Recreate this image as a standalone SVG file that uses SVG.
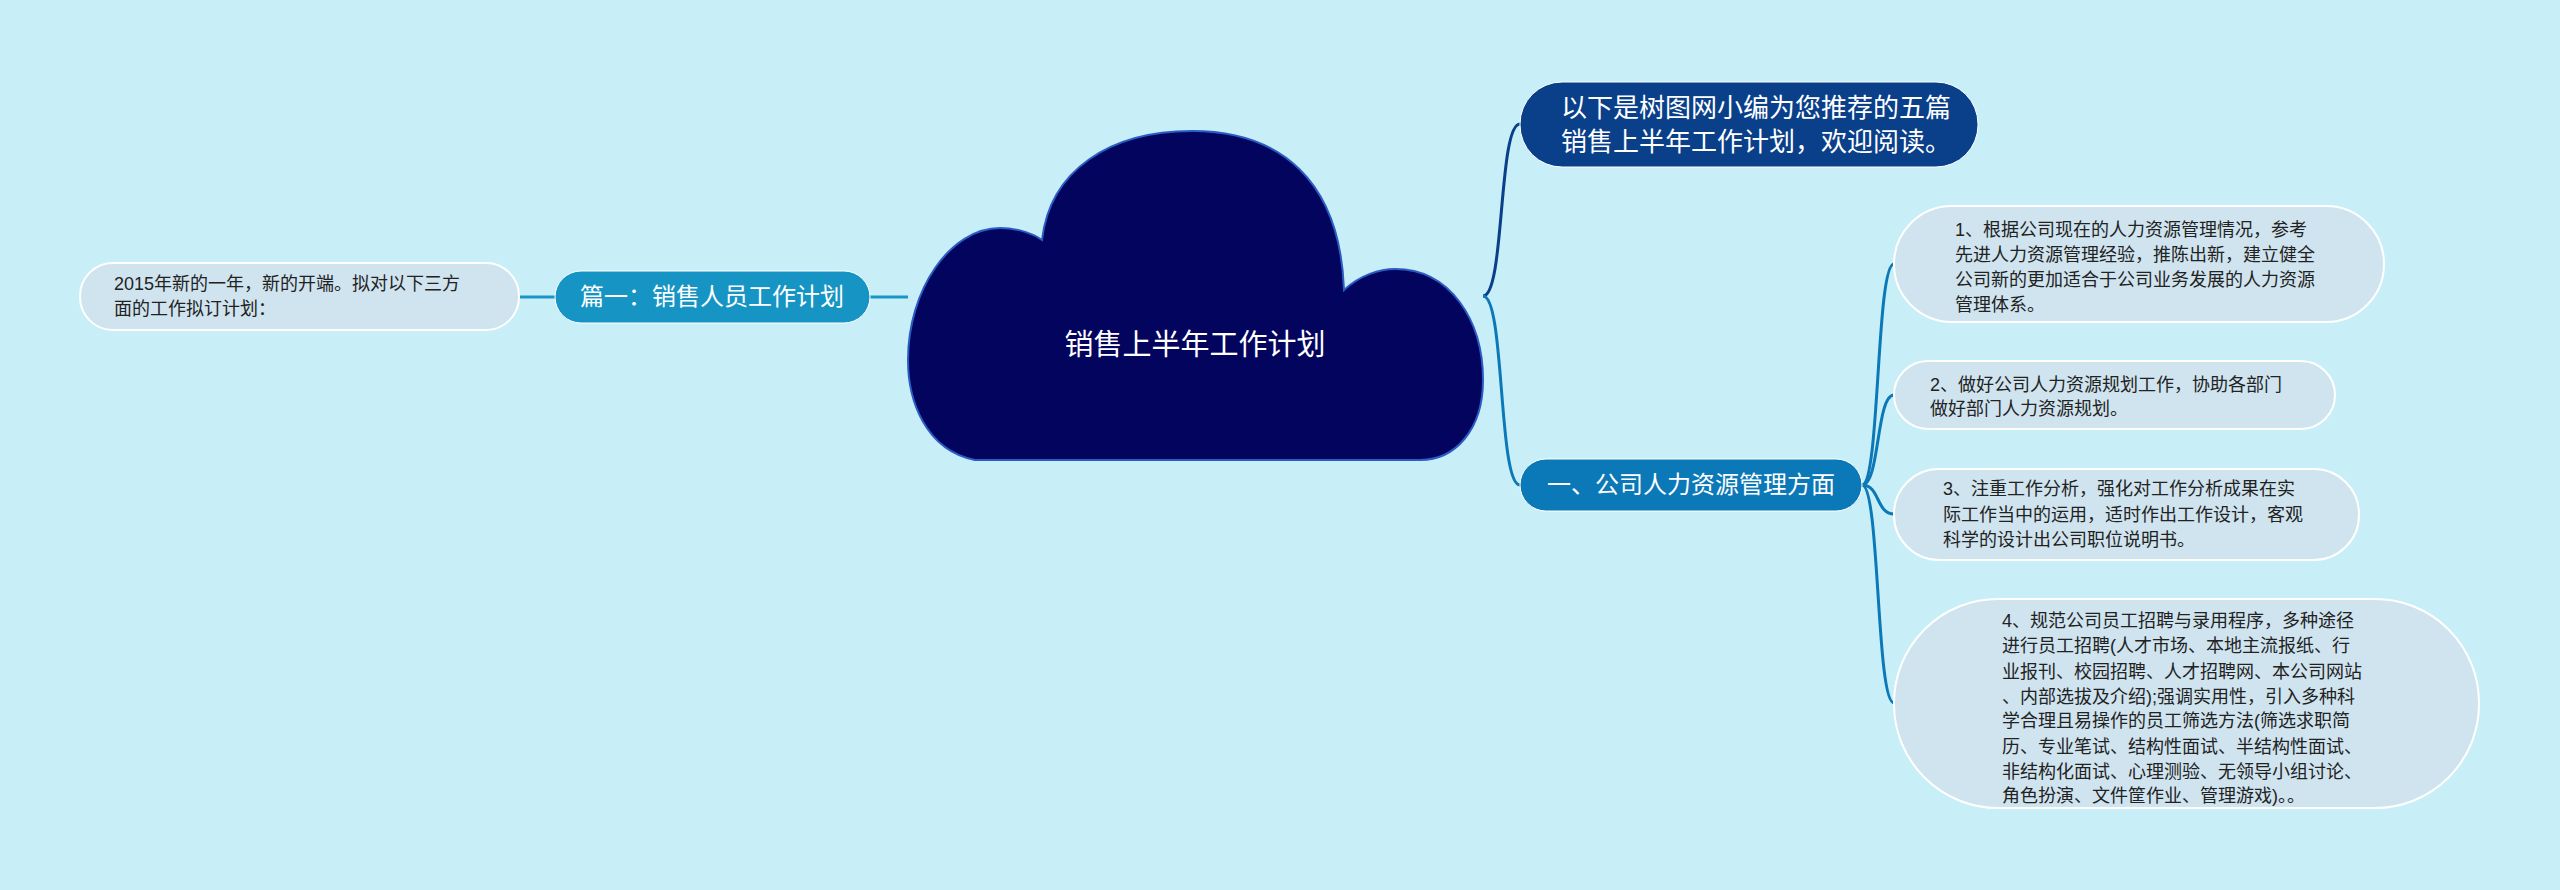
<svg xmlns="http://www.w3.org/2000/svg" width="2560" height="890" viewBox="0 0 2560 890">
<style>
.leaf{fill:#cfe4ef;stroke:#ffffff;stroke-width:2}
.lt{font-family:"Liberation Sans","Noto Sans CJK SC",sans-serif;font-size:18px;fill:#222222}
.wt{font-family:"Liberation Sans","Noto Sans CJK SC",sans-serif;fill:#ffffff}
.c{fill:none;stroke-width:3}
</style>
<rect width="2560" height="890" fill="#c8eff7"/>
<g id="connectors">
<path class="c" d="M870 297 H908" stroke="#1a95c5" stroke-width="5"/>
<path class="c" d="M519 297 H555" stroke="#1a95c5" stroke-width="4"/>
<path class="c" d="M1483 296 C1505 296 1498 124 1520 124" stroke="#0a3f8a"/>
<path class="c" d="M1483 296 C1505 296 1498 485 1520 485" stroke="#0b78b8"/>
<path class="c" d="M1862 485 C1880 485 1876 264 1894 264" stroke="#0b78b8"/>
<path class="c" d="M1862 485 C1880 485 1876 395 1894 395" stroke="#0b78b8"/>
<path class="c" d="M1862 485 C1880 485 1876 514 1894 514" stroke="#0b78b8"/>
<path class="c" d="M1862 485 C1880 485 1876 703 1894 703" stroke="#0b78b8"/>
</g>
<g id="root">
<path d="M975 460 C925 450 908 400 908 360 C908 290 950 228 1000 228 C1020 228 1035 235 1042 240 C1050 170 1110 131 1192 131 C1280 131 1340 180 1344 290 C1360 275 1380 269 1395 269 C1450 269 1483 320 1483 380 C1483 430 1455 460 1420 460 Z" fill="#03045e" stroke="#2a5cc4" stroke-width="2"/>
<text class="wt" x="1195" y="355" font-size="29" text-anchor="middle">销售上半年工作计划</text>
</g>
<g id="n-pian1">
<rect x="555" y="271" width="315" height="52" rx="26" fill="#1695c4" stroke="#ffffff" stroke-width="1"/>
<text class="wt" x="712" y="305" font-size="24" text-anchor="middle">篇一：销售人员工作计划</text>
</g>
<g id="n-2015">
<rect class="leaf" x="80" y="263" width="439" height="67" rx="33"/>
<text class="lt" x="114" y="290">2015年新的一年，新的开端。拟对以下三方</text>
<text class="lt" x="114" y="315">面的工作拟订计划：</text>
</g>
<g id="n-intro">
<rect x="1520" y="82" width="458" height="85" rx="42" fill="#0a3f8a" stroke="#ffffff" stroke-width="1"/>
<text class="wt" x="1561" y="117" font-size="26">以下是树图网小编为您推荐的五篇</text>
<text class="wt" x="1561" y="151" font-size="26">销售上半年工作计划，欢迎阅读。</text>
</g>
<g id="n-hr">
<rect x="1520" y="459" width="342" height="52" rx="26" fill="#0b78b8" stroke="#ffffff" stroke-width="1"/>
<text class="wt" x="1691" y="493" font-size="24" text-anchor="middle">一、公司人力资源管理方面</text>
</g>
<g id="n-1">
<rect class="leaf" x="1894" y="206" width="490" height="116" rx="58"/>
<text class="lt" x="1955" y="236">1、根据公司现在的人力资源管理情况，参考</text>
<text class="lt" x="1955" y="261">先进人力资源管理经验，推陈出新，建立健全</text>
<text class="lt" x="1955" y="286">公司新的更加适合于公司业务发展的人力资源</text>
<text class="lt" x="1955" y="311">管理体系。</text>
</g>
<g id="n-2">
<rect class="leaf" x="1894" y="361" width="441" height="68" rx="34"/>
<text class="lt" x="1930" y="391">2、做好公司人力资源规划工作，协助各部门</text>
<text class="lt" x="1930" y="415">做好部门人力资源规划。</text>
</g>
<g id="n-3">
<rect class="leaf" x="1894" y="469" width="465" height="91" rx="45"/>
<text class="lt" x="1943" y="495">3、注重工作分析，强化对工作分析成果在实</text>
<text class="lt" x="1943" y="521">际工作当中的运用，适时作出工作设计，客观</text>
<text class="lt" x="1943" y="546">科学的设计出公司职位说明书。</text>
</g>
<g id="n-4">
<rect class="leaf" x="1894" y="599" width="585" height="209" rx="104"/>
<text class="lt" x="2002" y="627">4、规范公司员工招聘与录用程序，多种途径</text>
<text class="lt" x="2002" y="652">进行员工招聘(人才市场、本地主流报纸、行</text>
<text class="lt" x="2002" y="678">业报刊、校园招聘、人才招聘网、本公司网站</text>
<text class="lt" x="2002" y="703">、内部选拔及介绍);强调实用性，引入多种科</text>
<text class="lt" x="2002" y="727">学合理且易操作的员工筛选方法(筛选求职简</text>
<text class="lt" x="2002" y="753">历、专业笔试、结构性面试、半结构性面试、</text>
<text class="lt" x="2002" y="778">非结构化面试、心理测验、无领导小组讨论、</text>
<text class="lt" x="2002" y="802">角色扮演、文件筐作业、管理游戏)。。</text>
</g>
</svg>
